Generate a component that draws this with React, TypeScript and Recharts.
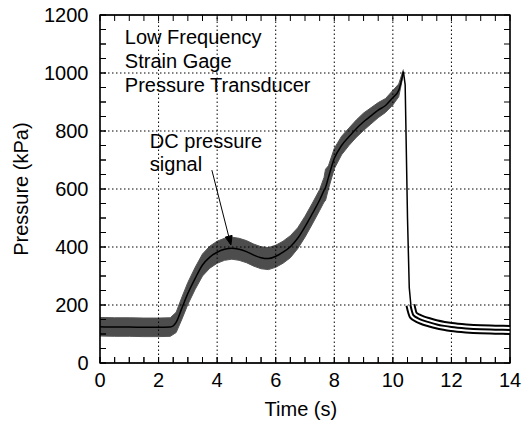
import { ComposedChart, Area, Line, XAxis, YAxis, ReferenceLine } from 'recharts'

// main (noisy) signal
const times = [0, 0.5, 1, 1.5, 2, 2.4, 2.6, 2.8, 3.0, 3.25, 3.5, 3.75, 4.0, 4.25, 4.5, 4.75, 5.0, 5.25, 5.5, 5.75, 6.0, 6.25, 6.5, 6.75, 7.0, 7.25, 7.5, 7.65, 7.7, 7.8, 8.0, 8.25, 8.5, 8.75, 9.0, 9.25, 9.5, 9.75, 10.0, 10.2, 10.36]
const dcSignal = [125, 124, 124, 123, 123, 124, 140, 190, 240, 292, 338, 365, 382, 392, 396, 392, 384, 372, 363, 360, 368, 382, 401, 430, 470, 515, 562, 595, 605, 640, 705, 750, 780, 808, 832, 852, 872, 888, 915, 940, 1005]
const noiseLow = [93, 92, 92, 91, 91, 92, 105, 152, 202, 254, 300, 327, 344, 354, 358, 354, 346, 334, 325, 322, 330, 344, 363, 394, 434, 479, 526, 555, 560, 600, 670, 718, 750, 778, 802, 824, 846, 864, 890, 918, 995]
const noiseHigh = [157, 156, 156, 155, 155, 156, 175, 228, 278, 330, 376, 403, 420, 430, 434, 430, 422, 410, 401, 398, 406, 420, 439, 466, 506, 551, 598, 640, 668, 680, 740, 782, 810, 838, 862, 880, 898, 912, 940, 962, 1012]

// release after the peak
const dropTimes = [10.36, 10.42, 10.5, 10.56, 10.62]
const dropValues = [1005, 960, 500, 260, 195]

// decay tail
const tailTimes = [10.6, 10.7, 10.85, 11, 11.25, 11.5, 11.75, 12, 12.5, 13, 13.5, 14]
const tailValues = [200, 165, 155, 148, 140, 133, 128, 124, 119, 116, 115, 114]

const xMajor = [0, 2, 4, 6, 8, 10, 12, 14]
const yMajor = [0, 200, 400, 600, 800, 1000, 1200]
const xMinor = Array.from({ length: 29 }, (_, i) => i * 0.5)
const yMinor = Array.from({ length: 25 }, (_, i) => i * 50)
const X_MAX = 14
const Y_MAX = 1200

const titleLines = ['Low Frequency', 'Strain Gage', 'Pressure Transducer']
const calloutLines = ['DC pressure', 'signal']

const mainData = times.map((t, i) => ({ t, dc: dcSignal[i], band: [noiseLow[i], noiseHigh[i]] }))
const dropData = dropTimes.map((t, i) => ({ t, dc: dropValues[i] }))
const tailData = tailTimes.map((t, i) => ({ t, tail: tailValues[i] }))

const font = '"Liberation Sans", Arial, sans-serif'
const tickStyle = { fill: '#000', fontSize: 20, fontFamily: font }

// frame, dotted grid and inward ticks, drawn as paths from the plot diagonal (0,0)-(14,1200)
const FrameShape = (props: any) => {
  const { x1, y1, x2, y2 } = props
  const X = (v: number) => x1 + (v / X_MAX) * (x2 - x1)
  const Y = (v: number) => y1 + (v / Y_MAX) * (y2 - y1)
  const grid =
    xMajor.slice(1, -1).map((v) => `M${X(v)},${Y(0)} V${Y(Y_MAX)}`).join(' ') +
    ' ' +
    yMajor.slice(1, -1).map((v) => `M${X(0)},${Y(v)} H${X(X_MAX)}`).join(' ')
  const ticks =
    xMinor.map((v) => `M${X(v)},${Y(0)} v-6 M${X(v)},${Y(Y_MAX)} v6`).join(' ') +
    ' ' +
    yMinor.map((v) => `M${X(0)},${Y(v)} h6 M${X(X_MAX)},${Y(v)} h-6`).join(' ')
  const frame = `M${X(0)},${Y(0)} H${X(X_MAX)} V${Y(Y_MAX)} H${X(0)} Z`
  return (
    <g>
      <path d={grid} stroke="#000" strokeWidth={1} strokeDasharray="1.5 2.5" fill="none" />
      <path d={ticks} stroke="#000" strokeWidth={1} fill="none" />
      <path d={frame} stroke="#000" strokeWidth={1.3} fill="none" />
    </g>
  )
}

// arrow + the text annotations, placed from the arrow's start point
const ArrowLine = (props: any) => {
  const { x1, y1, x2, y2 } = props
  const a = Math.atan2(y2 - y1, x2 - x1)
  const len = 9
  const w = 3.5
  const bx = x2 - len * Math.cos(a)
  const by = y2 - len * Math.sin(a)
  const d = `M${x1},${y1} L${bx},${by} M${x2},${y2} L${bx + w * Math.sin(a)},${by - w * Math.cos(a)} L${bx - w * Math.sin(a)},${by + w * Math.cos(a)} Z`
  const ty = { fontSize: 20, fontFamily: font, fill: '#000' }
  return (
    <g>
      <path d={d} stroke="#000" strokeWidth={1} fill="#000" />
      {titleLines.map((s, i) => (
        <text key={s} x={x1 - 87} y={y1 - 126.5 + i * 24} style={ty}>{s}</text>
      ))}
      {calloutLines.map((s, i) => (
        <text key={s} x={x1 - 62} y={y1 - 22.5 + i * 23.5} style={ty}>{s}</text>
      ))}
      <text x={x1 + 89} y={y1 + 246} textAnchor="middle" style={ty}>Time (s)</text>
      <text x={x1 - 184} y={y1 + 19} textAnchor="middle" transform={`rotate(-90, ${x1 - 184}, ${y1 + 19})`} style={ty}>Pressure (kPa)</text>
    </g>
  )
}

export default function App() {
  return (
    <div style={{ position: 'absolute', left: 0, top: 0 }}>
      <ComposedChart width={531} height={424} margin={{ top: 14, right: 20, bottom: 0, left: 0 }}>
        <XAxis
          xAxisId="main"
          dataKey="t"
          type="number"
          domain={[0, X_MAX]}
          ticks={xMinor}
          interval={0}
          height={61}
          tickSize={-6}
          tickMargin={16}
          tickFormatter={(v: number) => (xMajor.includes(v) ? String(v) : '')}
          tick={tickStyle}
          stroke="#000"
        />
        <XAxis
          xAxisId="top"
          orientation="top"
          type="number"
          domain={[0, X_MAX]}
          ticks={xMinor}
          interval={0}
          height={1}
          tickSize={-6}
          tickFormatter={() => ''}
          stroke="#000"
        />
        <YAxis
          yAxisId="main"
          type="number"
          domain={[0, Y_MAX]}
          ticks={yMinor}
          interval={0}
          width={100}
          tickSize={-6}
          tickMargin={17.5}
          tickFormatter={(v: number) => (yMajor.includes(v) ? String(v) : '')}
          tick={tickStyle}
          stroke="#000"
        />
        <YAxis
          yAxisId="right"
          orientation="right"
          type="number"
          domain={[0, Y_MAX]}
          ticks={yMinor}
          interval={0}
          width={1}
          tickSize={-6}
          tickFormatter={() => ''}
          stroke="#000"
        />

        <ReferenceLine
          xAxisId="main"
          yAxisId="main"
          segment={[{ x: 0, y: 0 }, { x: X_MAX, y: Y_MAX }]}
          shape={FrameShape}
        />

        <Area
          xAxisId="main"
          yAxisId="main"
          data={mainData}
          dataKey="band"
          type="linear"
          fill="#4d4d4d"
          fillOpacity={1}
          stroke="#555"
          isAnimationActive={false}
        />
        <Line xAxisId="main" yAxisId="main" data={mainData} dataKey="dc" type="monotone" stroke="#000" strokeWidth={1.5} dot={false} isAnimationActive={false} />
        <Line xAxisId="main" yAxisId="main" data={dropData} dataKey="dc" type="linear" stroke="#000" strokeWidth={1.5} dot={false} isAnimationActive={false} />

        {/* tail drawn as black band with two white gaps */}
        <Line xAxisId="main" yAxisId="main" data={tailData} dataKey="tail" type="monotone" stroke="#000" strokeWidth={10} dot={false} isAnimationActive={false} />
        <Line xAxisId="main" yAxisId="main" data={tailData} dataKey="tail" type="monotone" stroke="#fff" strokeWidth={6} dot={false} isAnimationActive={false} />
        <Line xAxisId="main" yAxisId="main" data={tailData} dataKey="tail" type="monotone" stroke="#000" strokeWidth={2} dot={false} isAnimationActive={false} />

        <ReferenceLine
          xAxisId="main"
          yAxisId="main"
          segment={[{ x: 3.82, y: 665 }, { x: 4.47, y: 407 }]}
          shape={ArrowLine}
        />
      </ComposedChart>
    </div>
  )
}
